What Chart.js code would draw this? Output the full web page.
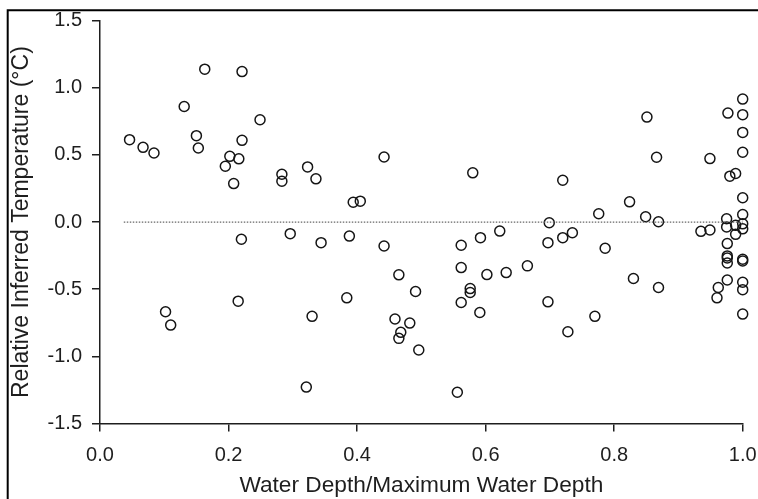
<!DOCTYPE html>
<html>
<head>
<meta charset="utf-8">
<script src="https://cdn.jsdelivr.net/npm/chart.js@4"></script>
<style>
  html, body { margin: 0; padding: 0; background: #fff; }
  #wrap { width: 758px; height: 499px; position: relative; }
</style>
</head>
<body>
<div id="wrap"><canvas id="chart"></canvas></div>
<script>
// depth ratio (x) and relative temperature (y)
const depthRatio = [
  0.046, 0.067, 0.084, 0.131, 0.163, 0.150, 0.153, 0.221, 0.249, 0.221,
  0.195, 0.202, 0.216, 0.208, 0.283, 0.283, 0.323, 0.336, 0.394, 0.405,
  0.442, 0.220, 0.296, 0.344, 0.388, 0.442, 0.102, 0.110, 0.215, 0.384,
  0.330, 0.321, 0.580, 0.720, 0.851, 0.866, 0.949, 0.977, 1.000, 1.000,
  1.000, 1.000, 0.980, 0.989, 1.000, 0.824, 0.776, 0.849, 0.869, 0.699,
  1.000, 0.975, 0.975, 0.989, 0.989, 1.000, 1.000, 0.935, 0.949, 0.622,
  0.592, 0.562, 0.697, 0.720, 0.735, 0.786, 0.976, 0.465, 0.491, 0.459,
  0.482, 0.468, 0.465, 0.496, 0.556, 0.562, 0.602, 0.632, 0.665, 0.576,
  0.576, 0.562, 0.591, 0.697, 0.728, 0.770, 0.830, 0.869, 0.962, 0.960,
  0.976, 0.976, 0.976, 0.976, 1.000, 1.000, 1.000, 1.000, 1.000
];
const relTemp = [
  0.614, 0.557, 0.515, 0.861, 1.139, 0.644, 0.552, 1.121, 0.762, 0.609,
  0.416, 0.490, 0.471, 0.287, 0.356, 0.304, 0.411, 0.322, 0.148, 0.156,
  0.485, -0.128, -0.086, -0.153, -0.104, -0.178, -0.668, -0.767, -0.589, -0.564,
  -0.702, -1.229, 0.367, 0.312, 0.782, 0.483, 0.473, 0.812, 0.916, 0.800,
  0.668, 0.520, 0.342, 0.362, 0.181, 0.151, 0.062, 0.040, 0.003, -0.005,
  0.057, 0.025, -0.036, -0.024, -0.091, -0.013, -0.050, -0.069, -0.059, -0.067,
  -0.116, -0.172, -0.153, -0.116, -0.079, -0.195, -0.160, -0.393, -0.517, -0.722,
  -0.752, -0.821, -0.866, -0.953, -1.267, -0.339, -0.391, -0.376, -0.326, -0.495,
  -0.524, -0.599, -0.673, -0.594, -0.817, -0.702, -0.420, -0.487, -0.487, -0.564,
  -0.431, -0.252, -0.267, -0.305, -0.277, -0.290, -0.448, -0.503, -0.685
];

// zero reference line
const refLineX = [0.037, 1.0];
const refLineY = [0, 0];

const xTickValues = [0, 0.2, 0.4, 0.6, 0.8, 1.0];
const xTickLabels = ["0.0", "0.2", "0.4", "0.6", "0.8", "1.0"];
const yTickValues = [-1.5, -1.0, -0.5, 0.0, 0.5, 1.0, 1.5];
const yTickLabels = ["-1.5", "-1.0", "-0.5", "0.0", "0.5", "1.0", "1.5"];

const ink = "#1e1e1e";
const fontFam = "'Liberation Sans', Arial, sans-serif";

// frame line along the top and left of the figure
const framePlugin = {
  id: "frame",
  afterDraw(chart) {
    const ctx = chart.ctx;
    ctx.save();
    ctx.strokeStyle = "#000";
    ctx.lineWidth = 2;
    ctx.beginPath();
    ctx.moveTo(7.7, 499);
    ctx.lineTo(7.7, 10.3);
    ctx.lineTo(758, 10.3);
    ctx.stroke();
    ctx.restore();
  }
};

const points = depthRatio.map((x, i) => ({ x: x, y: relTemp[i] }));
const refLine = refLineX.map((x, i) => ({ x: x, y: refLineY[i] }));

new Chart(document.getElementById("chart"), {
  type: "scatter",
  data: {
    datasets: [
      {
        type: "line",
        data: refLine,
        borderColor: "#666",
        borderWidth: 1.2,
        borderDash: [1.5, 1.5],
        pointRadius: 0,
        fill: false,
        clip: false
      },
      {
        data: points,
        pointStyle: "circle",
        pointRadius: 5,
        pointBorderWidth: 1.5,
        borderColor: "#151515",
        backgroundColor: "rgba(0,0,0,0)",
        pointBackgroundColor: "rgba(0,0,0,0)",
        clip: false
      }
    ]
  },
  options: {
    responsive: true,
    maintainAspectRatio: false,
    animation: false,
    devicePixelRatio: 1,
    layout: { padding: { left: 0, right: 15.3, top: 20.7, bottom: 0 } },
    plugins: {
      legend: { display: false },
      tooltip: { enabled: false }
    },
    scales: {
      x: {
        type: "linear",
        min: 0,
        max: 1,
        afterFit: (s) => {
          s.height = 75.5;
          s.paddingLeft = 0;
          s.paddingRight = 0;
        },
        afterBuildTicks: (s) => { s.ticks = xTickValues.map((v) => ({ value: v })); },
        border: { display: true, color: ink, width: 1.5 },
        grid: {
          display: true,
          drawOnChartArea: false,
          drawTicks: true,
          tickLength: 8,
          color: ink,
          lineWidth: 1.5
        },
        ticks: {
          padding: 12,
          maxRotation: 0,
          color: ink,
          font: { family: fontFam, size: 20 },
          callback: (v, i) => xTickLabels[i]
        },
        title: {
          display: true,
          text: "Water Depth/Maximum Water Depth",
          color: ink,
          font: { family: fontFam, size: 22.7, lineHeight: 1 },
          padding: { top: 0, bottom: 2 }
        }
      },
      y: {
        type: "linear",
        min: -1.5,
        max: 1.5,
        afterFit: (s) => {
          s.width = 100;
          s.paddingTop = 0;
          s.paddingBottom = 0;
        },
        afterBuildTicks: (s) => { s.ticks = yTickValues.map((v) => ({ value: v })); },
        border: { display: true, color: ink, width: 1.5 },
        grid: {
          display: true,
          drawOnChartArea: false,
          drawTicks: true,
          tickLength: 8,
          color: ink,
          lineWidth: 1.5
        },
        ticks: {
          padding: 10,
          color: ink,
          font: { family: fontFam, size: 20 },
          callback: (v, i) => yTickLabels[i]
        },
        title: {
          display: true,
          text: "Relative Inferred Temperature (°C)",
          color: ink,
          font: { family: fontFam, size: 23, lineHeight: 1 },
          padding: { top: 10.5, bottom: 0 }
        }
      }
    }
  },
  plugins: [framePlugin]
});
</script>
</body>
</html>
